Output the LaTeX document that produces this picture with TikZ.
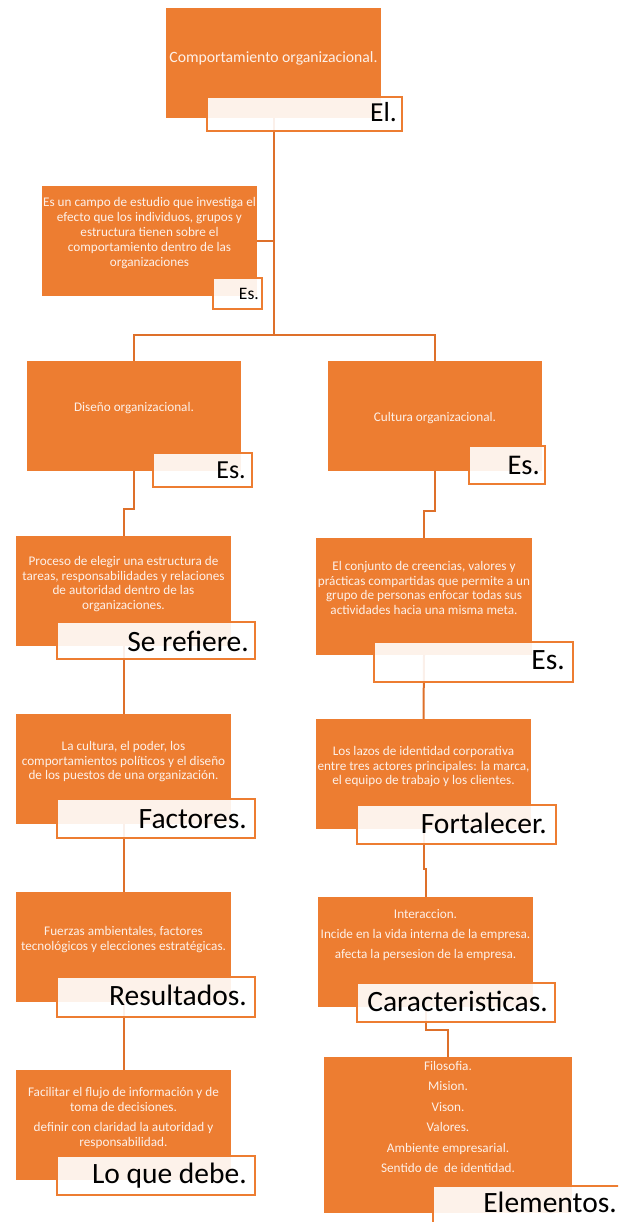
\documentclass[tikz,border=0pt]{standalone}
\usepackage{fontspec}
\setmainfont{Carlito}
\usetikzlibrary{calc}
\definecolor{orng}{RGB}{237,125,49}
\definecolor{conncol}{RGB}{222,112,42}
\definecolor{txtcol}{RGB}{253,240,232}
\begin{document}
\begin{tikzpicture}[x=1pt,y=-1pt,
  obox/.style={fill=orng, draw=none, inner sep=0pt, outer sep=0pt},
  btext/.style={text=txtcol, align=center, inner sep=0pt, font=\fontsize{13.2}{15}\selectfont},
  lbox/.style={draw=orng, line width=1.5pt, fill=white, fill opacity=0.9, inner sep=0pt, outer sep=0pt},
  ltext/.style={text=black, inner sep=0pt, anchor=base east, font=\fontsize{29.5}{32}\selectfont},
  conn/.style={draw=conncol, line width=2pt}]
\useasboundingbox (0,0) rectangle (618,1222);
\clip (0,0) rectangle (618,1222);

% orange boxes
\node[obox, minimum width=215pt, minimum height=110pt] (b0) at (273.5,63) {};
\node[obox, minimum width=215pt, minimum height=110pt] (b1) at (149.5,241) {};
\node[obox, minimum width=214pt, minimum height=110pt] (b2) at (134,415.5) {};
\node[obox, minimum width=214pt, minimum height=110pt] (b3) at (435,415.5) {};
\node[obox, minimum width=215pt, minimum height=110pt] (b4) at (123.5,591) {};
\node[obox, minimum width=216pt, minimum height=117pt] (b5) at (424,596.5) {};
\node[obox, minimum width=215pt, minimum height=110pt] (b6) at (123.5,769) {};
\node[obox, minimum width=215pt, minimum height=110pt] (b7) at (423.5,774) {};
\node[obox, minimum width=215pt, minimum height=110pt] (b8) at (123.5,947) {};
\node[obox, minimum width=215pt, minimum height=110pt] (b9) at (425.5,952) {};
\node[obox, minimum width=215pt, minimum height=110pt] (b10) at (123.5,1125) {};
\node[obox, minimum width=248pt, minimum height=156pt] (b11) at (448,1135) {};

% box texts
\node[btext, font=\fontsize{15.7}{18}\selectfont] (t0) at (273.5,58) {Comportamiento organizacional.};
\node[btext] (t1) at (149.5,233) {Es un campo de estudio que investiga el\\efecto que los individuos, grupos y\\estructura tienen sobre el\\comportamiento dentro de las\\organizaciones};
\node[btext] (t2) at (134,408) {Diseño organizacional.};
\node[btext] (t3) at (435,418) {Cultura organizacional.};
\node[btext, font=\fontsize{13.2}{14.5}\selectfont] (t4) at (123.5,584) {Proceso de elegir una estructura de\\tareas, responsabilidades y relaciones\\de autoridad dentro de las\\organizaciones.};
\node[btext, font=\fontsize{13.2}{14.5}\selectfont] (t5) at (424,588) {El conjunto de creencias, valores y\\prácticas compartidas que permite a un\\grupo de personas enfocar todas sus\\actividades hacia una misma meta.};
\node[btext, font=\fontsize{13.2}{14.5}\selectfont] (t6) at (123.5,762) {La cultura, el poder, los\\comportamientos políticos y el diseño\\de los puestos de una organización.};
\node[btext, font=\fontsize{13.2}{14.5}\selectfont] (t7) at (423.5,767) {Los lazos de identidad corporativa\\entre tres actores principales: la marca,\\el equipo de trabajo y los clientes.};
\node[btext, font=\fontsize{13.2}{15}\selectfont] (t8) at (123.5,940) {Fuerzas ambientales, factores\\tecnológicos y elecciones estratégicas.};
\node[btext, font=\fontsize{13.2}{20}\selectfont] (t9) at (425.5,935) {Interaccion.\\Incide en la vida interna de la empresa.\\afecta la persesion de la empresa.};
\node[btext, font=\fontsize{13.2}{14.5}\selectfont] (t10) at (123.5,1118) {Facilitar el flujo de información y de\\toma de decisiones.\\[6pt]definir con claridad la autoridad y\\responsabilidad.};
\node[btext, font=\fontsize{13.2}{20.4}\selectfont] (t11) at (448,1117) {Filosofia.\\Mision.\\Vison.\\Valores.\\Ambiente empresarial.\\Sentido de\ \ de identidad.};

% connectors
\coordinate (j0) at (273.5,335);
\draw[conn] (b0.south) -- (j0);
\draw[conn] (j0) -| (b2.north);
\draw[conn] (j0) -| (b3.north);
\draw[conn] (b1.east) -- (b1.east -| j0);
\draw[conn] (b2.south) -- ++(0,38) -| (b4.north);
\draw[conn] (b3.south) -- ++(0,40) -| (b5.north);
\draw[conn] (b4.south) -- (b6.north);
\draw[conn] (b6.south) -- (b8.north);
\draw[conn] (b8.south) -- (b10.north);
\draw[conn] (b5.south) -- (b7.north);
\draw[conn] (b7.south) -- ++(0,40) -| (b9.north);
\draw[conn] (b9.south) -- ++(0,23) -| (b11.north);

% label boxes
\node[lbox, minimum width=195pt, minimum height=34pt] (l0) at (304.5,114) {};
\node[lbox, minimum width=49pt, minimum height=31pt] (l1) at (237.5,293.5) {};
\node[lbox, minimum width=99pt, minimum height=34pt] (l2) at (202.5,470) {};
\node[lbox, minimum width=76pt, minimum height=38pt] (l3) at (507,465) {};
\node[lbox, minimum width=198pt, minimum height=37pt] (l4) at (156,640.5) {};
\node[lbox, minimum width=199pt, minimum height=40pt] (l5) at (473.5,662) {};
\node[lbox, minimum width=198pt, minimum height=39pt] (l6) at (156,818.5) {};
\node[lbox, minimum width=199pt, minimum height=39pt] (l7) at (456.5,824.5) {};
\node[lbox, minimum width=198pt, minimum height=40pt] (l8) at (156,997) {};
\node[lbox, minimum width=198pt, minimum height=39pt] (l9) at (456,1002.5) {};
\node[lbox, minimum width=198pt, minimum height=39pt] (l10) at (156,1175.5) {};
\node[lbox, minimum width=190pt, minimum height=42pt] (l11) at (528,1207) {};

% label texts
\node[ltext, font=\fontsize{27.5}{30}\selectfont] (lt0) at (397,122) {El.};
\node[ltext, font=\fontsize{17.5}{20}\selectfont] (lt1) at (259,299) {Es.};
\node[ltext, font=\fontsize{26}{28}\selectfont] (lt2) at (246,478) {Es.};
\node[ltext, font=\fontsize{28.5}{30}\selectfont] (lt3) at (540,474) {Es.};
\node[ltext] (lt4) at (249,651) {Se refiere.};
\node[ltext] (lt5) at (565,669) {Es.};
\node[ltext] (lt6) at (247,828) {Factores.};
\node[ltext] (lt7) at (547,833) {Fortalecer.};
\node[ltext] (lt8) at (247,1005) {Resultados.};
\node[ltext] (lt9) at (548,1011) {Caracteristicas.};
\node[ltext] (lt10) at (247,1183) {Lo que debe.};
\node[ltext] (lt11) at (617,1212) {Elementos.};
\end{tikzpicture}
\end{document}
